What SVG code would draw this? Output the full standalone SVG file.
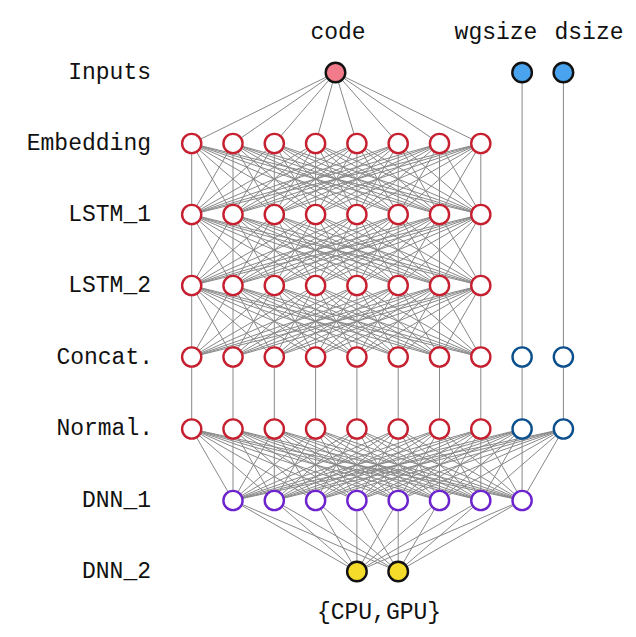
<svg xmlns="http://www.w3.org/2000/svg" width="636" height="637" viewBox="0 0 636 637">
<style>
.c{stroke:#888;stroke-width:1;fill:none}
.t{font-family:"Liberation Mono","DejaVu Sans Mono",monospace;font-size:23px;fill:#111}
.l{text-anchor:end}
.m{text-anchor:middle}
.h{fill:#fff;stroke:#c62030;stroke-width:2.4}
.b{fill:#fff;stroke:#0b4f8c;stroke-width:2.4}
.p{fill:#fff;stroke:#6c22cc;stroke-width:2.4}
.in{fill:#f27b8b;stroke:#111;stroke-width:2.4}
.ib{fill:#49a3ee;stroke:#111;stroke-width:2.4}
.o{fill:#f5dc2a;stroke:#111;stroke-width:2.4}
</style>
<rect width="636" height="637" fill="#fff"/>
<g id="labels" class="t">
<text class="l" x="151" y="79">Inputs</text>
<text class="l" x="151" y="150">Embedding</text>
<text class="l" x="151" y="221">LSTM_1</text>
<text class="l" x="151" y="292">LSTM_2</text>
<text class="l" x="153" y="364">Concat.</text>
<text class="l" x="153" y="435">Normal.</text>
<text class="l" x="151" y="507">DNN_1</text>
<text class="l" x="151" y="578">DNN_2</text>
<text class="m" x="338" y="39">code</text>
<text class="m" x="496" y="39">wgsize</text>
<text class="m" x="589" y="39">dsize</text>
<text class="m" x="379" y="619">{CPU,GPU}</text>
</g>
<g id="connectors" class="c">
<line x1="335.5" y1="72.5" x2="191.7" y2="143.5"/><line x1="335.5" y1="72.5" x2="233" y2="143.5"/><line x1="335.5" y1="72.5" x2="274.3" y2="143.5"/><line x1="335.5" y1="72.5" x2="315.6" y2="143.5"/><line x1="335.5" y1="72.5" x2="356.9" y2="143.5"/><line x1="335.5" y1="72.5" x2="398.2" y2="143.5"/><line x1="335.5" y1="72.5" x2="439.5" y2="143.5"/><line x1="335.5" y1="72.5" x2="480.8" y2="143.5"/>
<line x1="522.1" y1="72.5" x2="522.1" y2="357"/><line x1="563.4" y1="72.5" x2="563.4" y2="357"/>
<line x1="191.7" y1="143.5" x2="191.7" y2="214.5"/><line x1="191.7" y1="143.5" x2="233" y2="214.5"/><line x1="191.7" y1="143.5" x2="274.3" y2="214.5"/><line x1="191.7" y1="143.5" x2="315.6" y2="214.5"/><line x1="191.7" y1="143.5" x2="356.9" y2="214.5"/><line x1="191.7" y1="143.5" x2="398.2" y2="214.5"/><line x1="191.7" y1="143.5" x2="439.5" y2="214.5"/><line x1="191.7" y1="143.5" x2="480.8" y2="214.5"/>
<line x1="233" y1="143.5" x2="191.7" y2="214.5"/><line x1="233" y1="143.5" x2="233" y2="214.5"/><line x1="233" y1="143.5" x2="274.3" y2="214.5"/><line x1="233" y1="143.5" x2="315.6" y2="214.5"/><line x1="233" y1="143.5" x2="356.9" y2="214.5"/><line x1="233" y1="143.5" x2="398.2" y2="214.5"/><line x1="233" y1="143.5" x2="439.5" y2="214.5"/><line x1="233" y1="143.5" x2="480.8" y2="214.5"/>
<line x1="274.3" y1="143.5" x2="191.7" y2="214.5"/><line x1="274.3" y1="143.5" x2="233" y2="214.5"/><line x1="274.3" y1="143.5" x2="274.3" y2="214.5"/><line x1="274.3" y1="143.5" x2="315.6" y2="214.5"/><line x1="274.3" y1="143.5" x2="356.9" y2="214.5"/><line x1="274.3" y1="143.5" x2="398.2" y2="214.5"/><line x1="274.3" y1="143.5" x2="439.5" y2="214.5"/><line x1="274.3" y1="143.5" x2="480.8" y2="214.5"/>
<line x1="315.6" y1="143.5" x2="191.7" y2="214.5"/><line x1="315.6" y1="143.5" x2="233" y2="214.5"/><line x1="315.6" y1="143.5" x2="274.3" y2="214.5"/><line x1="315.6" y1="143.5" x2="315.6" y2="214.5"/><line x1="315.6" y1="143.5" x2="356.9" y2="214.5"/><line x1="315.6" y1="143.5" x2="398.2" y2="214.5"/><line x1="315.6" y1="143.5" x2="439.5" y2="214.5"/><line x1="315.6" y1="143.5" x2="480.8" y2="214.5"/>
<line x1="356.9" y1="143.5" x2="191.7" y2="214.5"/><line x1="356.9" y1="143.5" x2="233" y2="214.5"/><line x1="356.9" y1="143.5" x2="274.3" y2="214.5"/><line x1="356.9" y1="143.5" x2="315.6" y2="214.5"/><line x1="356.9" y1="143.5" x2="356.9" y2="214.5"/><line x1="356.9" y1="143.5" x2="398.2" y2="214.5"/><line x1="356.9" y1="143.5" x2="439.5" y2="214.5"/><line x1="356.9" y1="143.5" x2="480.8" y2="214.5"/>
<line x1="398.2" y1="143.5" x2="191.7" y2="214.5"/><line x1="398.2" y1="143.5" x2="233" y2="214.5"/><line x1="398.2" y1="143.5" x2="274.3" y2="214.5"/><line x1="398.2" y1="143.5" x2="315.6" y2="214.5"/><line x1="398.2" y1="143.5" x2="356.9" y2="214.5"/><line x1="398.2" y1="143.5" x2="398.2" y2="214.5"/><line x1="398.2" y1="143.5" x2="439.5" y2="214.5"/><line x1="398.2" y1="143.5" x2="480.8" y2="214.5"/>
<line x1="439.5" y1="143.5" x2="191.7" y2="214.5"/><line x1="439.5" y1="143.5" x2="233" y2="214.5"/><line x1="439.5" y1="143.5" x2="274.3" y2="214.5"/><line x1="439.5" y1="143.5" x2="315.6" y2="214.5"/><line x1="439.5" y1="143.5" x2="356.9" y2="214.5"/><line x1="439.5" y1="143.5" x2="398.2" y2="214.5"/><line x1="439.5" y1="143.5" x2="439.5" y2="214.5"/><line x1="439.5" y1="143.5" x2="480.8" y2="214.5"/>
<line x1="480.8" y1="143.5" x2="191.7" y2="214.5"/><line x1="480.8" y1="143.5" x2="233" y2="214.5"/><line x1="480.8" y1="143.5" x2="274.3" y2="214.5"/><line x1="480.8" y1="143.5" x2="315.6" y2="214.5"/><line x1="480.8" y1="143.5" x2="356.9" y2="214.5"/><line x1="480.8" y1="143.5" x2="398.2" y2="214.5"/><line x1="480.8" y1="143.5" x2="439.5" y2="214.5"/><line x1="480.8" y1="143.5" x2="480.8" y2="214.5"/>
<line x1="191.7" y1="214.5" x2="191.7" y2="285.5"/><line x1="191.7" y1="214.5" x2="233" y2="285.5"/><line x1="191.7" y1="214.5" x2="274.3" y2="285.5"/><line x1="191.7" y1="214.5" x2="315.6" y2="285.5"/><line x1="191.7" y1="214.5" x2="356.9" y2="285.5"/><line x1="191.7" y1="214.5" x2="398.2" y2="285.5"/><line x1="191.7" y1="214.5" x2="439.5" y2="285.5"/><line x1="191.7" y1="214.5" x2="480.8" y2="285.5"/>
<line x1="233" y1="214.5" x2="191.7" y2="285.5"/><line x1="233" y1="214.5" x2="233" y2="285.5"/><line x1="233" y1="214.5" x2="274.3" y2="285.5"/><line x1="233" y1="214.5" x2="315.6" y2="285.5"/><line x1="233" y1="214.5" x2="356.9" y2="285.5"/><line x1="233" y1="214.5" x2="398.2" y2="285.5"/><line x1="233" y1="214.5" x2="439.5" y2="285.5"/><line x1="233" y1="214.5" x2="480.8" y2="285.5"/>
<line x1="274.3" y1="214.5" x2="191.7" y2="285.5"/><line x1="274.3" y1="214.5" x2="233" y2="285.5"/><line x1="274.3" y1="214.5" x2="274.3" y2="285.5"/><line x1="274.3" y1="214.5" x2="315.6" y2="285.5"/><line x1="274.3" y1="214.5" x2="356.9" y2="285.5"/><line x1="274.3" y1="214.5" x2="398.2" y2="285.5"/><line x1="274.3" y1="214.5" x2="439.5" y2="285.5"/><line x1="274.3" y1="214.5" x2="480.8" y2="285.5"/>
<line x1="315.6" y1="214.5" x2="191.7" y2="285.5"/><line x1="315.6" y1="214.5" x2="233" y2="285.5"/><line x1="315.6" y1="214.5" x2="274.3" y2="285.5"/><line x1="315.6" y1="214.5" x2="315.6" y2="285.5"/><line x1="315.6" y1="214.5" x2="356.9" y2="285.5"/><line x1="315.6" y1="214.5" x2="398.2" y2="285.5"/><line x1="315.6" y1="214.5" x2="439.5" y2="285.5"/><line x1="315.6" y1="214.5" x2="480.8" y2="285.5"/>
<line x1="356.9" y1="214.5" x2="191.7" y2="285.5"/><line x1="356.9" y1="214.5" x2="233" y2="285.5"/><line x1="356.9" y1="214.5" x2="274.3" y2="285.5"/><line x1="356.9" y1="214.5" x2="315.6" y2="285.5"/><line x1="356.9" y1="214.5" x2="356.9" y2="285.5"/><line x1="356.9" y1="214.5" x2="398.2" y2="285.5"/><line x1="356.9" y1="214.5" x2="439.5" y2="285.5"/><line x1="356.9" y1="214.5" x2="480.8" y2="285.5"/>
<line x1="398.2" y1="214.5" x2="191.7" y2="285.5"/><line x1="398.2" y1="214.5" x2="233" y2="285.5"/><line x1="398.2" y1="214.5" x2="274.3" y2="285.5"/><line x1="398.2" y1="214.5" x2="315.6" y2="285.5"/><line x1="398.2" y1="214.5" x2="356.9" y2="285.5"/><line x1="398.2" y1="214.5" x2="398.2" y2="285.5"/><line x1="398.2" y1="214.5" x2="439.5" y2="285.5"/><line x1="398.2" y1="214.5" x2="480.8" y2="285.5"/>
<line x1="439.5" y1="214.5" x2="191.7" y2="285.5"/><line x1="439.5" y1="214.5" x2="233" y2="285.5"/><line x1="439.5" y1="214.5" x2="274.3" y2="285.5"/><line x1="439.5" y1="214.5" x2="315.6" y2="285.5"/><line x1="439.5" y1="214.5" x2="356.9" y2="285.5"/><line x1="439.5" y1="214.5" x2="398.2" y2="285.5"/><line x1="439.5" y1="214.5" x2="439.5" y2="285.5"/><line x1="439.5" y1="214.5" x2="480.8" y2="285.5"/>
<line x1="480.8" y1="214.5" x2="191.7" y2="285.5"/><line x1="480.8" y1="214.5" x2="233" y2="285.5"/><line x1="480.8" y1="214.5" x2="274.3" y2="285.5"/><line x1="480.8" y1="214.5" x2="315.6" y2="285.5"/><line x1="480.8" y1="214.5" x2="356.9" y2="285.5"/><line x1="480.8" y1="214.5" x2="398.2" y2="285.5"/><line x1="480.8" y1="214.5" x2="439.5" y2="285.5"/><line x1="480.8" y1="214.5" x2="480.8" y2="285.5"/>
<line x1="191.7" y1="285.5" x2="191.7" y2="357"/><line x1="191.7" y1="285.5" x2="233" y2="357"/><line x1="191.7" y1="285.5" x2="274.3" y2="357"/><line x1="191.7" y1="285.5" x2="315.6" y2="357"/><line x1="191.7" y1="285.5" x2="356.9" y2="357"/><line x1="191.7" y1="285.5" x2="398.2" y2="357"/><line x1="191.7" y1="285.5" x2="439.5" y2="357"/><line x1="191.7" y1="285.5" x2="480.8" y2="357"/>
<line x1="233" y1="285.5" x2="191.7" y2="357"/><line x1="233" y1="285.5" x2="233" y2="357"/><line x1="233" y1="285.5" x2="274.3" y2="357"/><line x1="233" y1="285.5" x2="315.6" y2="357"/><line x1="233" y1="285.5" x2="356.9" y2="357"/><line x1="233" y1="285.5" x2="398.2" y2="357"/><line x1="233" y1="285.5" x2="439.5" y2="357"/><line x1="233" y1="285.5" x2="480.8" y2="357"/>
<line x1="274.3" y1="285.5" x2="191.7" y2="357"/><line x1="274.3" y1="285.5" x2="233" y2="357"/><line x1="274.3" y1="285.5" x2="274.3" y2="357"/><line x1="274.3" y1="285.5" x2="315.6" y2="357"/><line x1="274.3" y1="285.5" x2="356.9" y2="357"/><line x1="274.3" y1="285.5" x2="398.2" y2="357"/><line x1="274.3" y1="285.5" x2="439.5" y2="357"/><line x1="274.3" y1="285.5" x2="480.8" y2="357"/>
<line x1="315.6" y1="285.5" x2="191.7" y2="357"/><line x1="315.6" y1="285.5" x2="233" y2="357"/><line x1="315.6" y1="285.5" x2="274.3" y2="357"/><line x1="315.6" y1="285.5" x2="315.6" y2="357"/><line x1="315.6" y1="285.5" x2="356.9" y2="357"/><line x1="315.6" y1="285.5" x2="398.2" y2="357"/><line x1="315.6" y1="285.5" x2="439.5" y2="357"/><line x1="315.6" y1="285.5" x2="480.8" y2="357"/>
<line x1="356.9" y1="285.5" x2="191.7" y2="357"/><line x1="356.9" y1="285.5" x2="233" y2="357"/><line x1="356.9" y1="285.5" x2="274.3" y2="357"/><line x1="356.9" y1="285.5" x2="315.6" y2="357"/><line x1="356.9" y1="285.5" x2="356.9" y2="357"/><line x1="356.9" y1="285.5" x2="398.2" y2="357"/><line x1="356.9" y1="285.5" x2="439.5" y2="357"/><line x1="356.9" y1="285.5" x2="480.8" y2="357"/>
<line x1="398.2" y1="285.5" x2="191.7" y2="357"/><line x1="398.2" y1="285.5" x2="233" y2="357"/><line x1="398.2" y1="285.5" x2="274.3" y2="357"/><line x1="398.2" y1="285.5" x2="315.6" y2="357"/><line x1="398.2" y1="285.5" x2="356.9" y2="357"/><line x1="398.2" y1="285.5" x2="398.2" y2="357"/><line x1="398.2" y1="285.5" x2="439.5" y2="357"/><line x1="398.2" y1="285.5" x2="480.8" y2="357"/>
<line x1="439.5" y1="285.5" x2="191.7" y2="357"/><line x1="439.5" y1="285.5" x2="233" y2="357"/><line x1="439.5" y1="285.5" x2="274.3" y2="357"/><line x1="439.5" y1="285.5" x2="315.6" y2="357"/><line x1="439.5" y1="285.5" x2="356.9" y2="357"/><line x1="439.5" y1="285.5" x2="398.2" y2="357"/><line x1="439.5" y1="285.5" x2="439.5" y2="357"/><line x1="439.5" y1="285.5" x2="480.8" y2="357"/>
<line x1="480.8" y1="285.5" x2="191.7" y2="357"/><line x1="480.8" y1="285.5" x2="233" y2="357"/><line x1="480.8" y1="285.5" x2="274.3" y2="357"/><line x1="480.8" y1="285.5" x2="315.6" y2="357"/><line x1="480.8" y1="285.5" x2="356.9" y2="357"/><line x1="480.8" y1="285.5" x2="398.2" y2="357"/><line x1="480.8" y1="285.5" x2="439.5" y2="357"/><line x1="480.8" y1="285.5" x2="480.8" y2="357"/>
<line x1="191.7" y1="357" x2="191.7" y2="429"/><line x1="233" y1="357" x2="233" y2="429"/><line x1="274.3" y1="357" x2="274.3" y2="429"/><line x1="315.6" y1="357" x2="315.6" y2="429"/><line x1="356.9" y1="357" x2="356.9" y2="429"/><line x1="398.2" y1="357" x2="398.2" y2="429"/><line x1="439.5" y1="357" x2="439.5" y2="429"/><line x1="480.8" y1="357" x2="480.8" y2="429"/><line x1="522.1" y1="357" x2="522.1" y2="429"/><line x1="563.4" y1="357" x2="563.4" y2="429"/>
<line x1="191.7" y1="429" x2="233" y2="500.5"/><line x1="191.7" y1="429" x2="274.3" y2="500.5"/><line x1="191.7" y1="429" x2="315.6" y2="500.5"/><line x1="191.7" y1="429" x2="356.9" y2="500.5"/><line x1="191.7" y1="429" x2="398.2" y2="500.5"/><line x1="191.7" y1="429" x2="439.5" y2="500.5"/><line x1="191.7" y1="429" x2="480.8" y2="500.5"/><line x1="191.7" y1="429" x2="522.1" y2="500.5"/>
<line x1="233" y1="429" x2="233" y2="500.5"/><line x1="233" y1="429" x2="274.3" y2="500.5"/><line x1="233" y1="429" x2="315.6" y2="500.5"/><line x1="233" y1="429" x2="356.9" y2="500.5"/><line x1="233" y1="429" x2="398.2" y2="500.5"/><line x1="233" y1="429" x2="439.5" y2="500.5"/><line x1="233" y1="429" x2="480.8" y2="500.5"/><line x1="233" y1="429" x2="522.1" y2="500.5"/>
<line x1="274.3" y1="429" x2="233" y2="500.5"/><line x1="274.3" y1="429" x2="274.3" y2="500.5"/><line x1="274.3" y1="429" x2="315.6" y2="500.5"/><line x1="274.3" y1="429" x2="356.9" y2="500.5"/><line x1="274.3" y1="429" x2="398.2" y2="500.5"/><line x1="274.3" y1="429" x2="439.5" y2="500.5"/><line x1="274.3" y1="429" x2="480.8" y2="500.5"/><line x1="274.3" y1="429" x2="522.1" y2="500.5"/>
<line x1="315.6" y1="429" x2="233" y2="500.5"/><line x1="315.6" y1="429" x2="274.3" y2="500.5"/><line x1="315.6" y1="429" x2="315.6" y2="500.5"/><line x1="315.6" y1="429" x2="356.9" y2="500.5"/><line x1="315.6" y1="429" x2="398.2" y2="500.5"/><line x1="315.6" y1="429" x2="439.5" y2="500.5"/><line x1="315.6" y1="429" x2="480.8" y2="500.5"/><line x1="315.6" y1="429" x2="522.1" y2="500.5"/>
<line x1="356.9" y1="429" x2="233" y2="500.5"/><line x1="356.9" y1="429" x2="274.3" y2="500.5"/><line x1="356.9" y1="429" x2="315.6" y2="500.5"/><line x1="356.9" y1="429" x2="356.9" y2="500.5"/><line x1="356.9" y1="429" x2="398.2" y2="500.5"/><line x1="356.9" y1="429" x2="439.5" y2="500.5"/><line x1="356.9" y1="429" x2="480.8" y2="500.5"/><line x1="356.9" y1="429" x2="522.1" y2="500.5"/>
<line x1="398.2" y1="429" x2="233" y2="500.5"/><line x1="398.2" y1="429" x2="274.3" y2="500.5"/><line x1="398.2" y1="429" x2="315.6" y2="500.5"/><line x1="398.2" y1="429" x2="356.9" y2="500.5"/><line x1="398.2" y1="429" x2="398.2" y2="500.5"/><line x1="398.2" y1="429" x2="439.5" y2="500.5"/><line x1="398.2" y1="429" x2="480.8" y2="500.5"/><line x1="398.2" y1="429" x2="522.1" y2="500.5"/>
<line x1="439.5" y1="429" x2="233" y2="500.5"/><line x1="439.5" y1="429" x2="274.3" y2="500.5"/><line x1="439.5" y1="429" x2="315.6" y2="500.5"/><line x1="439.5" y1="429" x2="356.9" y2="500.5"/><line x1="439.5" y1="429" x2="398.2" y2="500.5"/><line x1="439.5" y1="429" x2="439.5" y2="500.5"/><line x1="439.5" y1="429" x2="480.8" y2="500.5"/><line x1="439.5" y1="429" x2="522.1" y2="500.5"/>
<line x1="480.8" y1="429" x2="233" y2="500.5"/><line x1="480.8" y1="429" x2="274.3" y2="500.5"/><line x1="480.8" y1="429" x2="315.6" y2="500.5"/><line x1="480.8" y1="429" x2="356.9" y2="500.5"/><line x1="480.8" y1="429" x2="398.2" y2="500.5"/><line x1="480.8" y1="429" x2="439.5" y2="500.5"/><line x1="480.8" y1="429" x2="480.8" y2="500.5"/><line x1="480.8" y1="429" x2="522.1" y2="500.5"/>
<line x1="522.1" y1="429" x2="233" y2="500.5"/><line x1="522.1" y1="429" x2="274.3" y2="500.5"/><line x1="522.1" y1="429" x2="315.6" y2="500.5"/><line x1="522.1" y1="429" x2="356.9" y2="500.5"/><line x1="522.1" y1="429" x2="398.2" y2="500.5"/><line x1="522.1" y1="429" x2="439.5" y2="500.5"/><line x1="522.1" y1="429" x2="480.8" y2="500.5"/><line x1="522.1" y1="429" x2="522.1" y2="500.5"/>
<line x1="563.4" y1="429" x2="233" y2="500.5"/><line x1="563.4" y1="429" x2="274.3" y2="500.5"/><line x1="563.4" y1="429" x2="315.6" y2="500.5"/><line x1="563.4" y1="429" x2="356.9" y2="500.5"/><line x1="563.4" y1="429" x2="398.2" y2="500.5"/><line x1="563.4" y1="429" x2="439.5" y2="500.5"/><line x1="563.4" y1="429" x2="480.8" y2="500.5"/><line x1="563.4" y1="429" x2="522.1" y2="500.5"/>
<line x1="233" y1="500.5" x2="356.9" y2="571.5"/><line x1="233" y1="500.5" x2="398.2" y2="571.5"/><line x1="274.3" y1="500.5" x2="356.9" y2="571.5"/><line x1="274.3" y1="500.5" x2="398.2" y2="571.5"/><line x1="315.6" y1="500.5" x2="356.9" y2="571.5"/><line x1="315.6" y1="500.5" x2="398.2" y2="571.5"/><line x1="356.9" y1="500.5" x2="356.9" y2="571.5"/><line x1="356.9" y1="500.5" x2="398.2" y2="571.5"/><line x1="398.2" y1="500.5" x2="356.9" y2="571.5"/><line x1="398.2" y1="500.5" x2="398.2" y2="571.5"/><line x1="439.5" y1="500.5" x2="356.9" y2="571.5"/><line x1="439.5" y1="500.5" x2="398.2" y2="571.5"/><line x1="480.8" y1="500.5" x2="356.9" y2="571.5"/><line x1="480.8" y1="500.5" x2="398.2" y2="571.5"/><line x1="522.1" y1="500.5" x2="356.9" y2="571.5"/><line x1="522.1" y1="500.5" x2="398.2" y2="571.5"/>
</g>
<g id="inputs">
<circle id="in-code" class="in" cx="335.5" cy="72.5" r="9.8"/>
<circle id="in-wgsize" class="ib" cx="522.1" cy="72.5" r="9.8"/>
<circle id="in-dsize" class="ib" cx="563.4" cy="72.5" r="9.8"/>
</g>
<g id="embedding" class="h">
<circle cx="191.7" cy="143.5" r="9.6"/><circle cx="233" cy="143.5" r="9.6"/><circle cx="274.3" cy="143.5" r="9.6"/><circle cx="315.6" cy="143.5" r="9.6"/><circle cx="356.9" cy="143.5" r="9.6"/><circle cx="398.2" cy="143.5" r="9.6"/><circle cx="439.5" cy="143.5" r="9.6"/><circle cx="480.8" cy="143.5" r="9.6"/>
</g>
<g id="lstm1" class="h">
<circle cx="191.7" cy="214.5" r="9.6"/><circle cx="233" cy="214.5" r="9.6"/><circle cx="274.3" cy="214.5" r="9.6"/><circle cx="315.6" cy="214.5" r="9.6"/><circle cx="356.9" cy="214.5" r="9.6"/><circle cx="398.2" cy="214.5" r="9.6"/><circle cx="439.5" cy="214.5" r="9.6"/><circle cx="480.8" cy="214.5" r="9.6"/>
</g>
<g id="lstm2" class="h">
<circle cx="191.7" cy="285.5" r="9.6"/><circle cx="233" cy="285.5" r="9.6"/><circle cx="274.3" cy="285.5" r="9.6"/><circle cx="315.6" cy="285.5" r="9.6"/><circle cx="356.9" cy="285.5" r="9.6"/><circle cx="398.2" cy="285.5" r="9.6"/><circle cx="439.5" cy="285.5" r="9.6"/><circle cx="480.8" cy="285.5" r="9.6"/>
</g>
<g id="concat">
<g class="h"><circle cx="191.7" cy="357" r="9.6"/><circle cx="233" cy="357" r="9.6"/><circle cx="274.3" cy="357" r="9.6"/><circle cx="315.6" cy="357" r="9.6"/><circle cx="356.9" cy="357" r="9.6"/><circle cx="398.2" cy="357" r="9.6"/><circle cx="439.5" cy="357" r="9.6"/><circle cx="480.8" cy="357" r="9.6"/></g>
<g class="b"><circle cx="522.1" cy="357" r="9.6"/><circle cx="563.4" cy="357" r="9.6"/></g>
</g>
<g id="normal">
<g class="h"><circle cx="191.7" cy="429" r="9.6"/><circle cx="233" cy="429" r="9.6"/><circle cx="274.3" cy="429" r="9.6"/><circle cx="315.6" cy="429" r="9.6"/><circle cx="356.9" cy="429" r="9.6"/><circle cx="398.2" cy="429" r="9.6"/><circle cx="439.5" cy="429" r="9.6"/><circle cx="480.8" cy="429" r="9.6"/></g>
<g class="b"><circle cx="522.1" cy="429" r="9.6"/><circle cx="563.4" cy="429" r="9.6"/></g>
</g>
<g id="dnn1" class="p">
<circle cx="233" cy="500.5" r="9.6"/><circle cx="274.3" cy="500.5" r="9.6"/><circle cx="315.6" cy="500.5" r="9.6"/><circle cx="356.9" cy="500.5" r="9.6"/><circle cx="398.2" cy="500.5" r="9.6"/><circle cx="439.5" cy="500.5" r="9.6"/><circle cx="480.8" cy="500.5" r="9.6"/><circle cx="522.1" cy="500.5" r="9.6"/>
</g>
<g id="dnn2" class="o">
<circle cx="356.9" cy="571.5" r="9.8"/><circle cx="398.2" cy="571.5" r="9.8"/>
</g>
</svg>
